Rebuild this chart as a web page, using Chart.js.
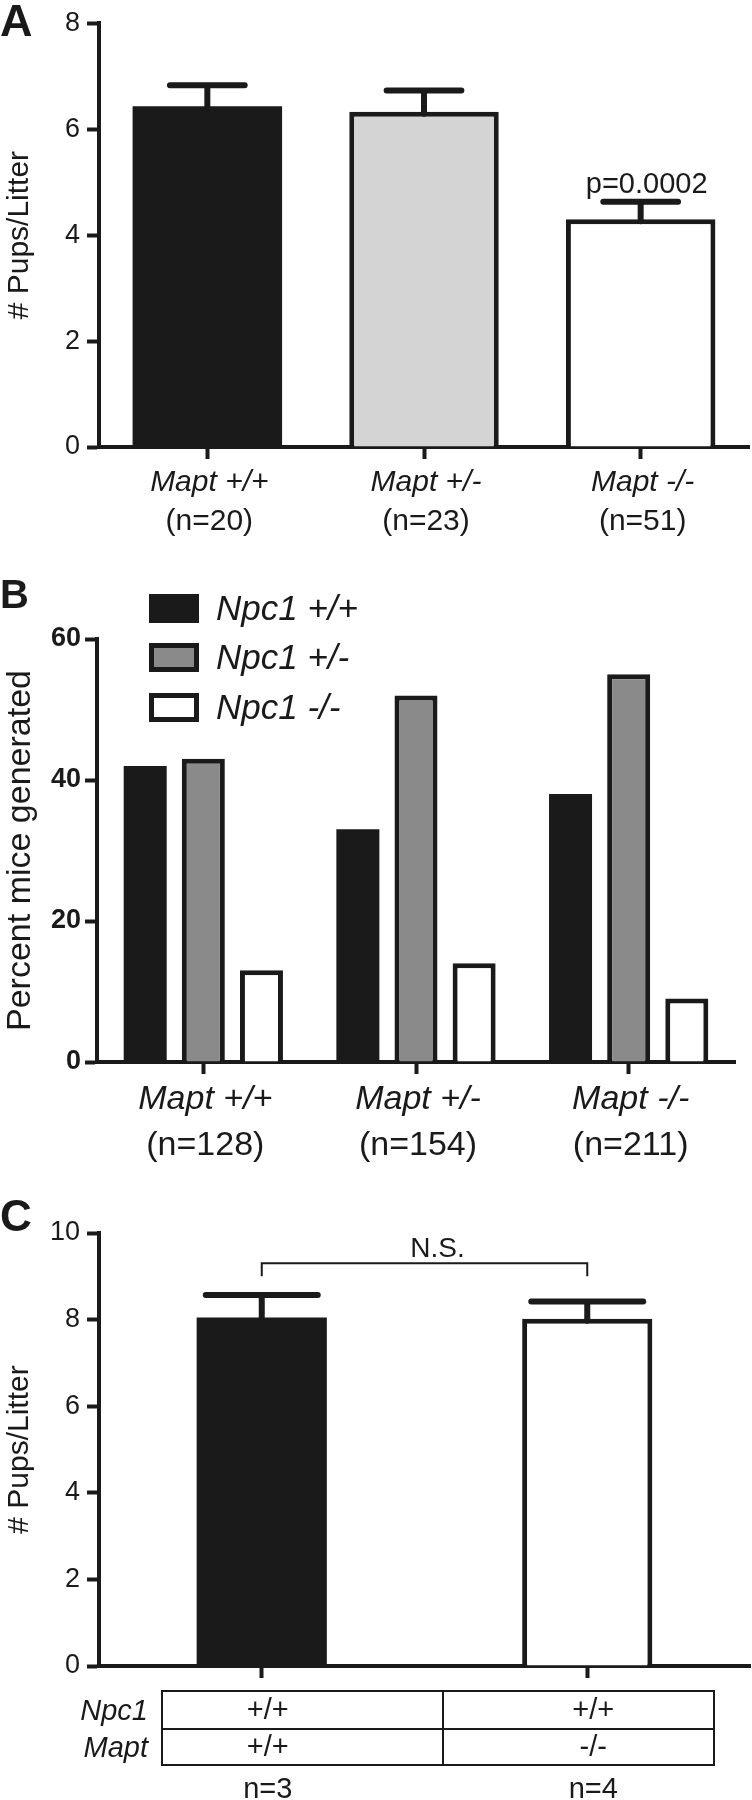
<!DOCTYPE html>
<html><head><meta charset="utf-8">
<script src="https://cdn.jsdelivr.net/npm/chart.js@4.4.1/dist/chart.umd.min.js"></script>
<style>
html,body{margin:0;padding:0;background:#fff;}
#wrap{position:relative;width:752px;height:1800px;overflow:hidden;background:#fff;}
canvas{position:absolute;left:0;}
</style></head><body>
<div id="wrap">
<canvas id="cA" width="752" height="560" style="top:0px;width:752px;height:560px"></canvas>
<canvas id="cB" width="752" height="610" style="top:560px;width:752px;height:610px"></canvas>
<canvas id="cC" width="752" height="640" style="top:1160px;width:752px;height:640px"></canvas>
</div>
<script>
// ---------- data ----------
const aCategories = ['Mapt +/+', 'Mapt +/-', 'Mapt -/-'];
const aCounts = ['(n=20)', '(n=23)', '(n=51)'];
const aMeans = [6.43, 6.33, 4.30];
const aSem = [0.40, 0.40, 0.33];
const aTicks = [0, 2, 4, 6, 8];
const aPValue = 'p=0.0002';

const bCategories = ['Mapt +/+', 'Mapt +/-', 'Mapt -/-'];
const bCounts = ['(n=128)', '(n=154)', '(n=211)'];
const bSeriesNames = ['Npc1 +/+', 'Npc1 +/-', 'Npc1 -/-'];
const bNpcWT = [42, 33, 38];
const bNpcHet = [43, 52, 55];
const bNpcKO = [13, 14, 9];
const bTicks = [0, 20, 40, 60];

const cRowNames = ['Npc1', 'Mapt'];
const cNpc1 = ['+/+', '+/+'];
const cMapt = ['+/+', '-/-'];
const cCounts = ['n=3', 'n=4'];
const cMeans = [8.05, 8.02];
const cSem = [0.52, 0.40];
const cTicks = [0, 2, 4, 6, 8, 10];
const cBracketLevel = 9.3;
const cBracketLegEnd = 9.0;
const cBracketLabel = 'N.S.';

const panelLetters = ['A', 'B', 'C'];

// ---------- styling ----------
const INK = '#1a1a1a';
const FONT = "'Liberation Sans', Arial, Helvetica, sans-serif";
Chart.defaults.font.family = FONT;
Chart.defaults.color = INK;
Chart.defaults.animation = false;

function yScale(o) {
  return {
    type: 'linear',
    min: o.ticks[0], max: o.ticks[o.ticks.length - 1],
    afterBuildTicks: s => { s.ticks = o.ticks.map(v => ({ value: v })); },
    afterFit: s => { s.width = o.width; },
    border: { display: true, color: INK, width: 4 },
    grid: { display: true, drawOnChartArea: false, drawTicks: true, tickLength: 12, tickWidth: 4, tickColor: INK, color: INK },
    ticks: { font: o.tickFont, color: INK, padding: o.tickPad, autoSkip: false },
    title: { display: true, text: o.title, font: o.titleFont, color: INK, padding: { top: o.titlePad, bottom: 0 } }
  };
}
function xScale(height) {
  return {
    type: 'category',
    offset: true,
    afterFit: s => { s.height = height; },
    border: { display: true, color: INK, width: 4 },
    grid: { display: true, offset: false, drawOnChartArea: false, drawTicks: true, tickLength: 12, tickWidth: 4, tickColor: INK, color: INK },
    ticks: { display: false }
  };
}

function errorBars(means, sem, capFrac, lw) {
  return { id: 'errorBars', afterDatasetsDraw(chart) {
    const ctx = chart.ctx, y = chart.scales.y, meta = chart.getDatasetMeta(0);
    ctx.save(); ctx.strokeStyle = INK; ctx.lineWidth = lw; ctx.lineCap = 'round';
    meta.data.forEach((bar, i) => {
      const top = y.getPixelForValue(means[i] + sem[i]);
      const base = y.getPixelForValue(means[i]);
      const cw = bar.width * capFrac;
      ctx.beginPath();
      ctx.moveTo(bar.x, base + 2); ctx.lineTo(bar.x, top);
      ctx.moveTo(bar.x - cw / 2, top); ctx.lineTo(bar.x + cw / 2, top);
      ctx.stroke();
    });
    ctx.restore();
  }};
}

function xLabels(line1, line2, size, dy1, dy2) {
  return { id: 'xLabels', afterDraw(chart) {
    const ctx = chart.ctx, x = chart.scales.x, b = chart.chartArea.bottom;
    ctx.save(); ctx.fillStyle = INK; ctx.textAlign = 'center'; ctx.textBaseline = 'middle';
    line1.forEach((t, i) => {
      const px = x.getPixelForTick(i);
      ctx.font = `italic ${size}px ${FONT}`;
      ctx.fillText(t, px + 2, b + dy1);
      ctx.font = `${size}px ${FONT}`;
      ctx.fillText(line2[i], px + 2, b + dy2);
    });
    ctx.restore();
  }};
}

function letter(txt, size, x, y) {
  return { id: 'letter', afterDraw(chart) {
    const ctx = chart.ctx; ctx.save(); ctx.fillStyle = INK;
    ctx.font = `bold ${size}px ${FONT}`; ctx.textAlign = 'left'; ctx.textBaseline = 'alphabetic';
    ctx.fillText(txt, x, y); ctx.restore();
  }};
}

// ---------- Panel A ----------
new Chart(document.getElementById('cA'), {
  type: 'bar',
  data: { labels: aCategories, datasets: [{
    data: aMeans,
    backgroundColor: [INK, '#d4d4d4', '#ffffff'],
    borderColor: INK, borderWidth: [0, 5, 5], borderSkipped: 'start',
    barPercentage: 0.69, categoryPercentage: 1.0
  }]},
  options: {
    responsive: false, maintainAspectRatio: false,
    layout: { padding: { top: 15, right: 3, left: 0, bottom: 0 } },
    plugins: { legend: { display: false }, tooltip: { enabled: false } },
    scales: {
      x: xScale(560 - 447),
      y: yScale({ ticks: aTicks, width: 99, tickFont: { size: 27 }, tickPad: 7,
        title: '# Pups/Litter', titleFont: { size: 30 }, titlePad: 2 })
    }
  },
  plugins: [
    errorBars(aMeans, aSem, 0.5, 6),
    xLabels(aCategories, aCounts, 30, 36, 75),
    letter(panelLetters[0], 45, 0, 36),
    { id: 'pval', afterDraw(chart) {
      const ctx = chart.ctx, y = chart.scales.y, bar = chart.getDatasetMeta(0).data[2];
      ctx.save(); ctx.fillStyle = INK; ctx.font = `29px ${FONT}`; ctx.textAlign = 'center'; ctx.textBaseline = 'alphabetic';
      ctx.fillText(aPValue, bar.x + 6, y.getPixelForValue(aMeans[2] + aSem[2]) - 9);
      ctx.restore();
    }}
  ]
});

// ---------- Panel B ----------
const bFills = [INK, '#8a8a8a', '#ffffff'];
new Chart(document.getElementById('cB'), {
  type: 'bar',
  data: { labels: bCategories, datasets: [bNpcWT, bNpcHet, bNpcKO].map((d, k) => ({
    label: bSeriesNames[k], data: d,
    backgroundColor: bFills[k], borderColor: INK, borderWidth: k === 0 ? 0 : 5, borderSkipped: 'start',
    barPercentage: 0.74, categoryPercentage: 0.82
  }))},
  options: {
    responsive: false, maintainAspectRatio: false,
    layout: { padding: { top: 79, right: 17, left: 0, bottom: 0 } },
    plugins: { legend: { display: false }, tooltip: { enabled: false } },
    scales: {
      x: xScale(610 - 502),
      y: yScale({ ticks: bTicks, width: 97, tickFont: { size: 27, weight: 'bold' }, tickPad: 4,
        title: 'Percent mice generated', titleFont: { size: 34 }, titlePad: 0 })
    }
  },
  plugins: [
    xLabels(bCategories, bCounts, 34, 38, 84),
    letter(panelLetters[1], 40, 0, 48),
    { id: 'legendBoxes', afterDraw(chart) {
      const ctx = chart.ctx; ctx.save();
      const tops = [34, 83, 133];
      bSeriesNames.forEach((name, k) => {
        const x = 149, y = tops[k], w = 50, h = 29;
        ctx.fillStyle = INK; ctx.fillRect(x, y, w, h);
        if (k > 0) { ctx.fillStyle = bFills[k]; ctx.fillRect(x + 5, y + 5, w - 10, h - 10); }
        ctx.fillStyle = INK; ctx.font = `italic 35px ${FONT}`; ctx.textAlign = 'left'; ctx.textBaseline = 'middle';
        ctx.fillText(name, 216, y + h / 2 + 2);
      });
      ctx.restore();
    }}
  ]
});

// ---------- Panel C ----------
new Chart(document.getElementById('cC'), {
  type: 'bar',
  data: { labels: cMapt, datasets: [{
    data: cMeans,
    backgroundColor: [INK, '#ffffff'],
    borderColor: INK, borderWidth: [0, 5], borderSkipped: 'start',
    barPercentage: 0.40, categoryPercentage: 1.0
  }]},
  options: {
    responsive: false, maintainAspectRatio: false,
    layout: { padding: { top: 73, right: 2, left: 0, bottom: 0 } },
    plugins: { legend: { display: false }, tooltip: { enabled: false } },
    scales: {
      x: xScale(640 - 506),
      y: yScale({ ticks: cTicks, width: 99, tickFont: { size: 27 }, tickPad: 7,
        title: '# Pups/Litter', titleFont: { size: 30 }, titlePad: 2 })
    }
  },
  plugins: [
    errorBars(cMeans, cSem, 0.86, 6),
    letter(panelLetters[2], 44, 0, 71),
    { id: 'bracket', afterDraw(chart) {
      const ctx = chart.ctx, y = chart.scales.y, bars = chart.getDatasetMeta(0).data;
      const yl = y.getPixelForValue(cBracketLevel), ye = y.getPixelForValue(cBracketLegEnd);
      ctx.save(); ctx.strokeStyle = INK; ctx.lineWidth = 2;
      ctx.beginPath();
      ctx.moveTo(bars[0].x, ye); ctx.lineTo(bars[0].x, yl); ctx.lineTo(bars[1].x, yl); ctx.lineTo(bars[1].x, ye);
      ctx.stroke();
      ctx.fillStyle = INK; ctx.font = `28px ${FONT}`; ctx.textAlign = 'center'; ctx.textBaseline = 'alphabetic';
      ctx.fillText(cBracketLabel, (bars[0].x + bars[1].x) / 2 + 13, yl - 6);
      ctx.restore();
    }},
    { id: 'genotypeTable', afterDraw(chart) {
      const ctx = chart.ctx, x = chart.scales.x;
      const L = 162, R = 714, T = 531, M = 569, B = 605, D = 443;
      ctx.save(); ctx.strokeStyle = INK; ctx.lineWidth = 2;
      ctx.strokeRect(L, T, R - L, B - T);
      ctx.beginPath(); ctx.moveTo(L, M); ctx.lineTo(R, M); ctx.moveTo(D, T); ctx.lineTo(D, B); ctx.stroke();
      ctx.fillStyle = INK; ctx.textBaseline = 'middle';
      ctx.font = `italic 29px ${FONT}`; ctx.textAlign = 'right';
      ctx.fillText(cRowNames[0], 148, (T + M) / 2 + 2);
      ctx.fillText(cRowNames[1], 148, (M + B) / 2 + 2);
      ctx.font = `29px ${FONT}`; ctx.textAlign = 'center';
      cNpc1.forEach((t, i) => {
        const px = x.getPixelForTick(i) + 6;
        ctx.fillText(t, px, (T + M) / 2 + 1);
        ctx.fillText(cMapt[i], px, (M + B) / 2 + 1);
      });
      ctx.textBaseline = 'alphabetic';
      cCounts.forEach((t, i) => ctx.fillText(t, x.getPixelForTick(i) + 6, 638));
      ctx.restore();
    }}
  ]
});
</script>
</body></html>
